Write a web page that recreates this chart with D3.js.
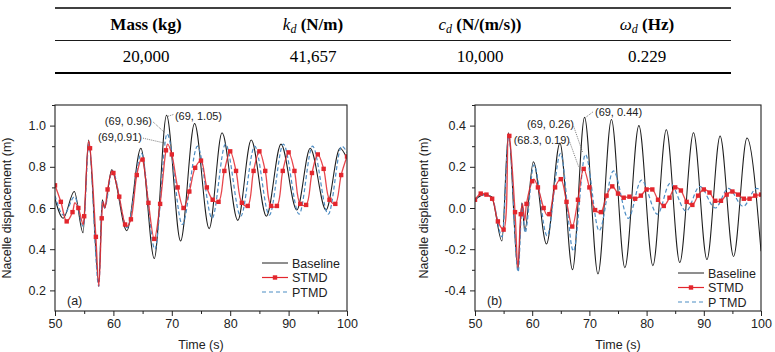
<!DOCTYPE html>
<html>
<head>
<meta charset="utf-8">
<script src="https://cdn.jsdelivr.net/npm/d3@7"></script>
<style>
  body { margin: 0; background: #fff; }
  svg { display: block; }
</style>
</head>
<body>
<div id="chart"></div>
<script>
// ---- table data ----
const headSymbols = ["", "k", "c", "\u03c9"];
const headSubs = ["", "d", "d", "d"];
const headUnits = ["Mass (kg)", " (N/m)", " (N/(m/s))", " (Hz)"];
const tableValues = ["20,000", "41,657", "10,000", "0.229"];

// ---- chart data, [time (s), displacement (m)] ----
const xTicks = [50, 60, 70, 80, 90, 100];
const yTicksA = [0.2, 0.4, 0.6, 0.8, 1.0];
const yTicksB = [-0.4, -0.2, 0.0, 0.2, 0.4];

const baselineA = [[50,0.645],[51.4,0.55],[53.3,0.68],[54.8,0.48],[55.75,0.93],[57.5,0.24],[58.1,0.64],[58.5,0.60],[59.7,0.785],[62.3,0.49],[64.7,0.89],[67.0,0.355],[69.1,1.05],[71.5,0.44],[73.9,1.01],[76.4,0.50],[78.6,0.965],[81.3,0.54],[83.6,0.93],[86.2,0.56],[88.7,0.91],[91.4,0.59],[93.7,0.89],[96.4,0.59],[98.8,0.89],[100,0.84]];
const stmdA = [[50,0.71],[51,0.63],[52,0.535],[53,0.58],[53.4,0.625],[54,0.60],[54.8,0.52],[55,0.56],[55.75,0.925],[56,0.89],[57,0.46],[57.5,0.22],[58,0.55],[58.25,0.63],[58.55,0.60],[59,0.69],[59.75,0.78],[60,0.77],[61,0.655],[62,0.52],[62.3,0.51],[63,0.545],[64,0.76],[64.8,0.84],[65,0.835],[66,0.625],[67,0.45],[68,0.62],[69,0.88],[69.3,0.91],[70,0.86],[71,0.70],[72,0.60],[73,0.68],[74,0.795],[75,0.83],[76,0.70],[77,0.64],[78,0.63],[79,0.78],[80,0.875],[81,0.78],[82,0.625],[83,0.61],[84,0.78],[85,0.875],[86,0.78],[87,0.61],[88,0.61],[89,0.78],[90,0.87],[91,0.78],[92,0.62],[93,0.615],[94,0.77],[95,0.86],[96,0.79],[97,0.64],[98,0.62],[99,0.76],[100,0.85]];
const ptmdA = [[50,0.66],[51.5,0.565],[53.35,0.655],[54.85,0.51],[55.8,0.91],[57.5,0.22],[58.1,0.63],[58.5,0.60],[59.8,0.78],[62.35,0.505],[64.8,0.865],[67.1,0.40],[69.2,0.96],[71.8,0.52],[74.4,0.90],[76.9,0.55],[79.2,0.91],[81.8,0.56],[84.2,0.90],[86.7,0.565],[89.1,0.91],[91.8,0.57],[94.1,0.90],[96.8,0.57],[99.1,0.90],[100,0.87]];

const baselineB = [[50,0.04],[51.6,0.065],[52.9,0.055],[54.7,-0.16],[55.85,0.365],[57.5,-0.30],[58.2,0.025],[58.7,-0.11],[60.2,0.225],[62.5,-0.175],[64.85,0.315],[67.05,-0.30],[69.15,0.44],[71.5,-0.32],[73.85,0.43],[76.2,-0.29],[78.65,0.40],[81.1,-0.28],[83.45,0.38],[85.8,-0.265],[88.2,0.365],[90.55,-0.25],[92.85,0.35],[95.2,-0.235],[97.55,0.34],[100,-0.21]];
const stmdB = [[50,0.04],[51,0.07],[52,0.065],[53,0.045],[54,-0.065],[55,-0.105],[55.85,0.36],[56,0.35],[57,-0.02],[57.5,-0.29],[58,-0.03],[58.3,0.02],[58.7,-0.06],[59,0.02],[60,0.13],[60.3,0.14],[61,0.10],[62,0.0],[62.6,-0.035],[63,-0.03],[64,0.10],[65,0.14],[66,0.03],[67,-0.09],[68,0.04],[69,0.19],[70,0.10],[71,-0.01],[72,-0.02],[73,0.06],[74,0.105],[75,0.07],[76,0.05],[77,0.055],[78,0.045],[79,0.06],[80,0.09],[81,0.09],[82,0.04],[83,0.01],[84,0.05],[85,0.10],[86,0.085],[87,0.03],[88,0.015],[89,0.06],[90,0.09],[91,0.075],[92,0.035],[93,0.035],[94,0.065],[95,0.08],[96,0.065],[97,0.045],[98,0.045],[99,0.06],[100,0.065]];
const ptmdB = [[50,0.04],[51.6,0.065],[52.9,0.055],[54.75,-0.14],[55.9,0.35],[57.55,-0.31],[58.25,0.02],[58.75,-0.12],[60.3,0.21],[62.6,-0.135],[64.95,0.265],[67.2,-0.21],[69.3,0.26],[71.7,-0.11],[74.2,0.18],[76.8,-0.05],[79.1,0.135],[81.9,-0.03],[84.1,0.12],[86.9,-0.015],[89.3,0.105],[92.0,0.0],[94.3,0.095],[96.9,0.008],[99.2,0.095],[100,0.085]];

// annotations: label, time, value
const notesA = [["(69, 1.05)", 69, 1.05], ["(69, 0.96)", 69, 0.96], ["(69,0.91)", 69, 0.91]];
const notesB = [["(69, 0.44)", 69, 0.44], ["(69, 0.26)", 69, 0.26], ["(68.3, 0.19)", 68.3, 0.19]];
const legendA = ["Baseline", "STMD", "PTMD"];
const legendB = ["Baseline", "STMD", "P TMD"];

const colors = { base: "#1e1e1e", stmd: "#e3262d", ptmd: "#4d8dc4" };
const sans = "'Liberation Sans', Arial, sans-serif";
const serif = "'Liberation Serif', 'Times New Roman', serif";

const svg = d3.select("#chart").append("svg")
  .attr("width", 775)
  .attr("height", 352)
  .style("background", "#fff");

// ---- table ----
const col = d3.scalePoint().domain(d3.range(4)).range([146, 647]);

svg.append("line").attr("x1", 55).attr("x2", 731).attr("y1", 8).attr("y2", 8)
  .attr("stroke", "#000").attr("stroke-width", 1.6);
svg.append("line").attr("x1", 55).attr("x2", 731).attr("y1", 40.5).attr("y2", 40.5)
  .attr("stroke", "#000").attr("stroke-width", 0.9);
svg.append("line").attr("x1", 55).attr("x2", 731).attr("y1", 73).attr("y2", 73)
  .attr("stroke", "#000").attr("stroke-width", 2.2);

const heads = svg.selectAll(".head").data(d3.range(4)).enter().append("text")
  .attr("class", "head")
  .attr("x", (i) => col(i))
  .attr("y", 29.5)
  .attr("text-anchor", "middle")
  .style("font-family", serif)
  .style("font-size", "17px")
  .style("font-weight", "bold");
heads.each(function (i) {
  const t = d3.select(this);
  if (headSymbols[i]) {
    t.append("tspan").text(headSymbols[i]).style("font-style", "italic").style("font-weight", "normal");
    t.append("tspan").text(headSubs[i]).attr("dy", 3).style("font-size", "12px")
      .style("font-style", "italic").style("font-weight", "normal");
    t.append("tspan").text(headUnits[i]).attr("dy", -3);
  } else {
    t.append("tspan").text(headUnits[i]);
  }
});

svg.selectAll(".val").data(tableValues).enter().append("text")
  .attr("x", (d, i) => col(i))
  .attr("y", 62)
  .attr("text-anchor", "middle")
  .style("font-family", serif)
  .style("font-size", "17px")
  .text((d) => d);

// ---- panels ----
const hyphen = (f) => (d) => f(d).replace("\u2212", "-");

function drawPanel(p) {
  const x = d3.scaleLinear().domain([50, 100]).range([p.left, p.right]);
  const y = d3.scaleLinear().domain(p.yDomain).range([311, 105]);
  const g = svg.append("g");

  const clipId = "clip" + p.tag.replace(/\W/g, "");
  g.append("clipPath").attr("id", clipId).append("rect")
    .attr("x", p.left).attr("y", 105).attr("width", p.right - p.left).attr("height", 206);

  // minor ticks
  g.append("g").attr("transform", "translate(0,311)")
    .call(d3.axisBottom(x).tickValues(d3.range(55, 100, 10)).tickSize(3).tickFormat(""))
    .call((a) => a.select(".domain").remove());
  g.append("g").attr("transform", `translate(${p.left},0)`)
    .call(d3.axisLeft(y).tickValues(p.yMinor).tickSize(3).tickFormat(""))
    .call((a) => a.select(".domain").remove());

  // major ticks
  const xa = g.append("g").attr("transform", "translate(0,311)")
    .call(d3.axisBottom(x).tickValues(xTicks).tickSize(5).tickPadding(3).tickFormat(d3.format("d")));
  const ya = g.append("g").attr("transform", `translate(${p.left},0)`)
    .call(d3.axisLeft(y).tickValues(p.yTicks).tickSize(5).tickPadding(4).tickFormat(hyphen(d3.format(".1f"))));
  [xa, ya].forEach((a) => {
    a.select(".domain").remove();
    a.selectAll("text").style("font-family", sans).style("font-size", "12.5px").attr("fill", "#222");
  });
  g.selectAll(".tick line").attr("stroke", "#222");

  const plot = g.append("g").attr("clip-path", `url(#${clipId})`);
  const line = d3.line().x((d) => x(d[0])).y((d) => y(d[1])).curve(d3.curveMonotoneX);
  const smooth = d3.line().x((d) => x(d[0])).y((d) => y(d[1])).curve(d3.curveCatmullRom.alpha(0.5));

  plot.append("path").datum(p.base).attr("d", line)
    .attr("fill", "none").attr("stroke", colors.base).attr("stroke-width", 1.05);
  plot.append("path").datum(p.ptmd).attr("d", line)
    .attr("fill", "none").attr("stroke", colors.ptmd).attr("stroke-width", 1.2)
    .attr("stroke-dasharray", "4,2.5");
  plot.append("path").datum(p.stmd).attr("d", smooth)
    .attr("fill", "none").attr("stroke", colors.stmd).attr("stroke-opacity", 0.85).attr("stroke-width", 1.3);
  plot.selectAll(".mk").data(p.stmd.filter((d) => Number.isInteger(d[0]))).enter().append("rect")
    .attr("x", (d) => x(d[0]) - 2.2).attr("y", (d) => y(d[1]) - 2.2)
    .attr("width", 4.4).attr("height", 4.4).attr("fill", colors.stmd);

  // frame
  g.append("rect").attr("x", p.left).attr("y", 105)
    .attr("width", p.right - p.left).attr("height", 206)
    .attr("fill", "none").attr("stroke", "#222").attr("stroke-width", 1.1);

  // axis titles
  g.append("text").attr("x", (p.left + p.right) / 2).attr("y", 349)
    .attr("text-anchor", "middle").style("font-family", sans).style("font-size", "12.5px")
    .attr("fill", "#222").text("Time (s)");
  g.append("text").attr("transform", `translate(${p.titleX},208) rotate(-90)`)
    .attr("text-anchor", "middle").style("font-family", sans).style("font-size", "12.5px")
    .attr("fill", "#222").text("Nacelle displacement (m)");

  g.append("text").attr("x", p.left + 12).attr("y", 305)
    .style("font-family", sans).style("font-size", "12.5px").attr("fill", "#222").text(p.tag);

  // annotations with dotted leaders
  p.notes.forEach((n, i) => {
    const px = x(n[1]), py = y(n[2]);
    const o = p.noteOffsets[i];
    g.append("line").attr("x1", px + o[2]).attr("y1", py + o[3])
      .attr("x2", px + o[4]).attr("y2", py + o[5])
      .attr("stroke", "#444").attr("stroke-width", 0.7).attr("stroke-dasharray", "1,1");
    g.append("text").attr("x", px + o[0]).attr("y", py + o[1])
      .attr("text-anchor", o[0] > 0 ? "start" : "end")
      .style("font-family", sans).style("font-size", "11px").attr("fill", "#222").text(n[0]);
  });

  // legend
  const leg = g.selectAll(".legend").data(p.legend).enter().append("g")
    .attr("transform", (d, i) => `translate(${p.legX},${p.legY + i * 14.5})`);
  leg.append("line").attr("x1", 0).attr("x2", 26)
    .attr("stroke", (d, i) => [colors.base, colors.stmd, colors.ptmd][i])
    .attr("stroke-width", (d, i) => (i === 0 ? 1 : 1.2))
    .attr("stroke-dasharray", (d, i) => (i === 2 ? "4,3" : null));
  leg.filter((d, i) => i === 1).append("rect")
    .attr("x", 10.8).attr("y", -2.2).attr("width", 4.4).attr("height", 4.4).attr("fill", colors.stmd);
  leg.append("text").attr("x", 30).attr("y", 4.5)
    .style("font-family", sans).style("font-size", "12.5px").attr("fill", "#222").text((d) => d);
}

drawPanel({
  tag: "(a)", left: 55, right: 347, yDomain: [0.1, 1.1], yTicks: yTicksA,
  yMinor: [0.3, 0.5, 0.7, 0.9, 1.1], titleX: 11,
  base: baselineA, stmd: stmdA, ptmd: ptmdA, notes: notesA,
  noteOffsets: [[9, 4.7, 2, 1, 8, -1], [-14, -9, -13, -12, -1, -1], [-24, -3.4, -23, -6, -1, -1]],
  legend: legendA, legX: 262, legY: 263
});
drawPanel({
  tag: "(b)", left: 475, right: 761, yDomain: [-0.5, 0.5], yTicks: yTicksB,
  yMinor: [-0.3, -0.1, 0.1, 0.3, 0.5], titleX: 428,
  base: baselineB, stmd: stmdB, ptmd: ptmdB, notes: notesB,
  noteOffsets: [[11.3, -1.4, 2, 0, 10, -6], [-9.7, -26.6, -10, -28, -1, -2], [-9.7, -25, -10, -27, -1, -2]],
  legend: legendB, legX: 678, legY: 273
});
</script>
</body>
</html>
